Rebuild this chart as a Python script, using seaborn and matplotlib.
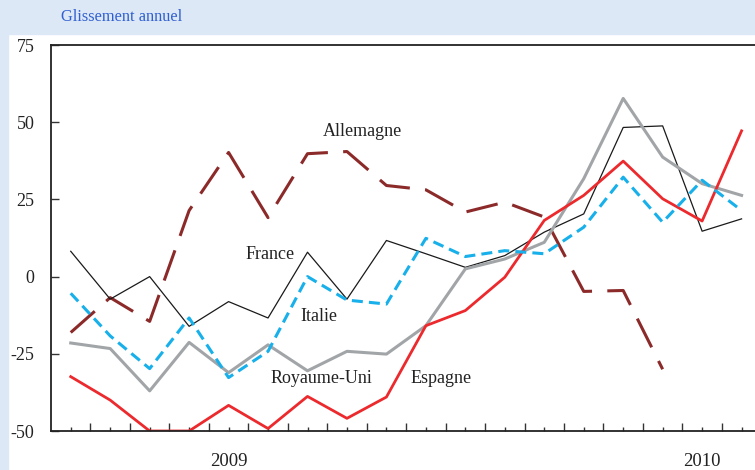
import pandas as pd
import matplotlib
matplotlib.use("Agg")
import matplotlib.pyplot as plt
from matplotlib.patches import Rectangle
from matplotlib.ticker import FixedLocator, FixedFormatter, NullFormatter
import seaborn as sns

# données mensuelles (glissement annuel, %)
mois = list(range(18))
france = [8.2, -7.3, 0.0, -16.1, -8.1, -13.4, 7.9, -7.3, 11.7, 7.4, 3.0, 6.8, 14.4, 20.3, 48.3, 48.8, 14.7, 18.7]
allemagne = [-18.1, -6.8, -14.5, 21.4, 40.2, 19.1, 39.8, 40.5, 29.5, 28.1, 20.9, 24.1, 19.3, -4.8, -4.5, -30.0, None, None]
italie = [-5.4, -19.2, -29.8, -13.4, -32.7, -24.2, 0.0, -7.6, -8.9, 12.4, 6.5, 8.4, 7.4, 16.0, 32.2, 17.6, 31.2, 21.4]
royaume_uni = [-21.5, -23.3, -37.0, -21.3, -31.1, -22.1, -30.5, -24.2, -25.1, -15.9, 2.5, 5.7, 11.1, 31.7, 57.7, 38.7, 30.1, 26.3]
espagne = [-32.4, -40.0, -50.0, -50.0, -41.7, -49.2, -38.8, -45.9, -39.0, -15.9, -11.0, -0.2, 18.2, 26.3, 37.4, 25.2, 18.0, 47.2]

yticks = [-50, -25, 0, 25, 50, 75]
ytick_labels = ["-50", "-25", "0", "25", "50", "75"]
annees = {4: "2009", 16: "2010"}

plt.rcParams['font.family'] = ['Liberation Serif', 'DejaVu Serif']

fig = plt.figure(figsize=(7.55, 4.70), dpi=100)
fond = "#dde8f7"
# bandeau du haut et bande de gauche
fig.patches.append(Rectangle((0, 1 - 34 / 470), 1, 34 / 470, transform=fig.transFigure, color=fond, zorder=-5))
fig.patches.append(Rectangle((0, 0), 8 / 755, 1, transform=fig.transFigure, color=fond, zorder=-5))
fig.text(61 / 755, 1 - 17 / 470, "Glissement annuel", color="#2f5fd0", fontsize=11.8, va="center", ha="left")

ax = fig.add_axes([51 / 755, 39 / 470, 1 - 51 / 755, 386 / 470])
ax.set_facecolor("white")

sns.lineplot(x=mois, y=allemagne, ax=ax, color="#8c2a2a", linewidth=2.2, linestyle=(0, (10.5, 5)), errorbar=None)
sns.lineplot(x=mois, y=france, ax=ax, color="#1a1a1a", linewidth=0.9, errorbar=None)
sns.lineplot(x=mois, y=royaume_uni, ax=ax, color="#a2a5a8", linewidth=2.2, errorbar=None)
sns.lineplot(x=mois, y=espagne, ax=ax, color="#ec2a2e", linewidth=2.0, errorbar=None)
sns.lineplot(x=mois, y=italie, ax=ax, color="#18b0ea", linewidth=2.2, linestyle=(0, (3.6, 2.0)), errorbar=None)

# étiquettes des séries
etiquettes = [("Allemagne", 7.39, 47.1), ("France", 5.06, 7.1), ("Italie", 6.3, -12.8),
              ("Royaume-Uni", 6.35, -33.1), ("Espagne", 9.39, -33.1)]
for nom, x, y in etiquettes:
    ax.text(x, y, nom, fontsize=13, color="#222222", ha="center", va="center")

ax.set_xlim(-0.5, 17.34)
ax.set_ylim(-50, 75)
ax.set_yticks(yticks)
ax.set_yticklabels(ytick_labels)

ax.xaxis.set_major_locator(FixedLocator([m + 0.5 for m in mois]))
ax.xaxis.set_major_formatter(NullFormatter())
ax.xaxis.set_minor_locator(FixedLocator(mois))
ax.xaxis.set_minor_formatter(FixedFormatter([annees.get(m, "") for m in mois]))

ax.tick_params(axis="x", which="major", direction="in", length=6, width=1, color="#333333")
ax.tick_params(axis="x", which="minor", direction="in", length=3, width=1, color="#333333",
               labelsize=13.5, pad=16, labelcolor="#222222")
ax.tick_params(axis="y", direction="in", length=6, width=1, color="#333333",
               labelsize=13, pad=12, labelcolor="#222222")

for cote in ["left", "top", "bottom"]:
    ax.spines[cote].set_color("#222222")
    ax.spines[cote].set_linewidth(1.3)
ax.spines["right"].set_visible(False)
ax.set_xlabel("")
ax.set_ylabel("")

fig.savefig("out.png", dpi=100)
